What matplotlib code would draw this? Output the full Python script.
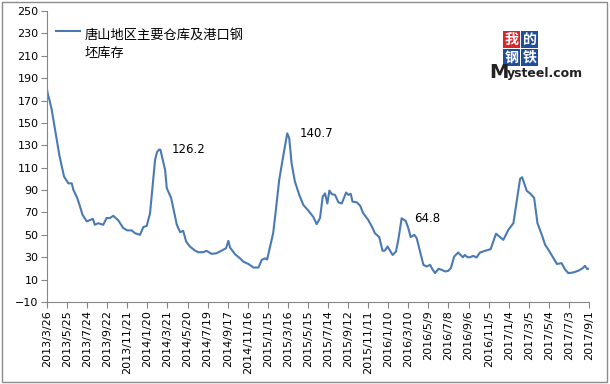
import pandas as pd
import matplotlib.pyplot as plt
from matplotlib.patches import Rectangle
from matplotlib.lines import Line2D

plt.rcParams['font.family'] = ['Noto Sans CJK SC', 'DejaVu Sans']

# 唐山地区主要仓库及港口钢坯库存
dates = [
    "2013-03-26", "2013-03-29", "2013-04-02", "2013-04-09", "2013-04-19", "2013-05-02",
    "2013-05-16", "2013-05-29", "2013-06-08", "2013-06-13", "2013-06-23", "2013-07-01",
    "2013-07-10", "2013-07-23", "2013-08-10", "2013-08-16", "2013-08-26", "2013-09-10",
    "2013-09-20", "2013-09-30", "2013-10-10", "2013-10-25", "2013-11-09", "2013-11-21",
    "2013-12-04", "2013-12-14", "2013-12-29", "2014-01-08", "2014-01-18", "2014-01-28",
    "2014-02-12", "2014-02-18", "2014-02-24", "2014-02-28", "2014-03-14", "2014-03-19",
    "2014-04-01", "2014-04-18", "2014-04-28", "2014-05-07", "2014-05-16", "2014-05-27",
    "2014-06-11", "2014-06-21", "2014-07-06", "2014-07-16", "2014-07-31", "2014-08-15",
    "2014-08-30", "2014-09-12", "2014-09-19", "2014-09-24", "2014-10-09", "2014-10-24",
    "2014-11-03", "2014-11-18", "2014-12-03", "2014-12-18", "2014-12-28", "2015-01-07",
    "2015-01-13", "2015-01-22", "2015-01-31", "2015-02-08", "2015-02-18", "2015-03-01",
    "2015-03-14", "2015-03-20", "2015-03-27", "2015-04-06", "2015-04-19", "2015-05-01",
    "2015-05-16", "2015-05-31", "2015-06-10", "2015-06-20", "2015-06-28", "2015-07-05",
    "2015-07-12", "2015-07-18", "2015-07-25", "2015-08-04", "2015-08-14", "2015-08-24",
    "2015-09-06", "2015-09-13", "2015-09-20", "2015-09-25", "2015-10-08", "2015-10-18",
    "2015-10-27", "2015-11-11", "2015-11-22", "2015-12-01", "2015-12-14", "2015-12-24",
    "2015-12-31", "2016-01-08", "2016-01-15", "2016-01-23", "2016-02-02", "2016-02-09",
    "2016-02-19", "2016-03-02", "2016-03-10", "2016-03-17", "2016-03-28", "2016-04-04",
    "2016-04-14", "2016-04-24", "2016-05-04", "2016-05-14", "2016-05-22", "2016-05-29",
    "2016-06-08", "2016-06-18", "2016-06-28", "2016-07-07", "2016-07-15", "2016-07-25",
    "2016-08-06", "2016-08-20", "2016-08-26", "2016-09-03", "2016-09-10", "2016-09-20",
    "2016-09-30", "2016-10-10", "2016-10-25", "2016-11-11", "2016-11-27", "2016-12-09",
    "2016-12-19", "2017-01-03", "2017-01-18", "2017-01-30", "2017-02-07", "2017-02-13",
    "2017-02-27", "2017-03-09", "2017-03-21", "2017-03-31", "2017-04-13", "2017-04-23",
    "2017-05-03", "2017-05-16", "2017-05-28", "2017-06-11", "2017-06-21", "2017-07-01",
    "2017-07-16", "2017-07-31", "2017-08-13", "2017-08-20", "2017-08-27", "2017-09-01",
]
stock = [
    180, 175, 171, 162, 144, 121,
    102, 96, 96, 90, 84, 77,
    68, 62, 64.3, 59, 60.4, 59,
    65, 65, 67, 63, 56, 54,
    54, 51.5, 50, 57, 58, 69.4,
    117, 124, 126.2, 126, 108, 91.7,
    83, 59, 52.4, 53.6, 44, 39.6,
    36, 34.5, 34.5, 35.7, 33, 33.6,
    36, 38, 44.6, 38.7, 32.7, 29,
    26, 24, 20.8, 20.8, 27.7, 29,
    28, 39.6, 51.5, 72, 99, 118.5,
    140.7, 136.3, 114, 97.6, 85.7, 76.8,
    71.7, 66, 59.5, 65, 84, 87,
    78, 89.6, 86.4, 85.7, 79, 78,
    87.8, 85.7, 86.6, 79.7, 79, 76,
    69.4, 63.4, 57.4, 51.5, 48, 35.7,
    36, 39.6, 36, 32, 35, 45.5,
    64.8, 62.5, 56, 48, 50, 47,
    35, 23.2, 21.7, 23.2, 18.75, 15.8,
    19.6, 18.75, 17.3, 17.8, 20.2, 30.6,
    34.2, 30, 32, 30, 30, 31.25,
    29.8, 34.2, 35.7, 37.2, 51, 48,
    45.5, 54.5, 60.4, 84, 100, 101.5,
    89.3, 87, 83, 60.4, 50, 41,
    36.6, 30, 24, 24.7, 19.3, 15.8,
    16.4, 17.9, 20.2, 22.3, 19.3, 19.8,
]
peaks = ["2014-02-24", "2015-03-14", "2016-02-19"]
peak_labels = ["126.2", "140.7", "64.8"]

df = pd.DataFrame({"date": pd.to_datetime(dates), "stock": stock})
ticks = pd.date_range("2013-03-26", "2017-09-01", freq="60D")

fig = plt.figure(figsize=(6.1, 3.84), dpi=100)
ax = fig.add_axes([47 / 610, 1 - 302 / 384, 542 / 610, 291 / 384])
ax.plot(df["date"], df["stock"], color="#4a7ab4", lw=1.5)

for d, lab in zip(peaks, peak_labels):
    v = df.loc[df["date"] == pd.Timestamp(d), "stock"].values[0]
    ax.annotate(lab, (pd.Timestamp(d), v), xytext=(9, 0), textcoords="offset points",
                va="center", ha="left", fontsize=8.5, family="DejaVu Sans")

ax.set_xlim(ticks[0], ticks[-1])
ax.set_ylim(-10, 250)
ax.set_yticks(range(-10, 251, 20))
ax.set_xticks(ticks)
ax.set_xticklabels([f"{t.year}/{t.month}/{t.day}" for t in ticks], rotation=90)
for lab in ax.get_xticklabels() + ax.get_yticklabels():
    lab.set_family("DejaVu Sans")
    lab.set_fontsize(8)
ax.tick_params(colors="#868686", labelcolor="black", length=4, width=0.8, pad=2)
for s in ["top", "right"]:
    ax.spines[s].set_visible(False)
for s in ["left", "bottom"]:
    ax.spines[s].set_color("#868686")
    ax.spines[s].set_linewidth(0.8)

# legend (line sits on the first text line, as in the reference)
ax.add_line(Line2D([9 / 542, 33 / 542], [1 - 20 / 291, 1 - 20 / 291], transform=ax.transAxes,
                   color="#4a7ab4", lw=1.5))
ax.text(38 / 542, 1 - 29 / 291, "唐山地区主要仓库及港口钢\n坯库存", transform=ax.transAxes,
        va="center_baseline", ha="left", fontsize=9.5, linespacing=1.5)

# logo
for ch, x, y, c in [("我", 503, 31, "#d9252b"), ("的", 521, 31, "#1f4e9c"),
                     ("钢", 503, 49, "#1f4e9c"), ("铁", 521, 49, "#1f4e9c")]:
    fig.patches.append(Rectangle((x / 610, 1 - (y + 17) / 384), 17 / 610, 17 / 384,
                                 transform=fig.transFigure, fc=c, ec="none"))
    fig.text((x + 8.5) / 610, 1 - (y + 8.5) / 384, ch, color="white", fontsize=10,
             ha="center", va="center", weight="bold")
fig.text(489 / 610, 1 - 72 / 384, "M", fontsize=14, weight="bold", family="DejaVu Sans",
         va="center", ha="left", color="#222222")
fig.text(507 / 610, 1 - 73 / 384, "ysteel.com", fontsize=9, weight="bold",
         family="DejaVu Sans", va="center", ha="left", color="#222222")

fig.patches.append(Rectangle((2 / 610, 2 / 384), 605 / 610, 380 / 384, transform=fig.transFigure,
                             fc="none", ec="#8c8c8c", lw=1))
fig.savefig("out.png", dpi=100)
